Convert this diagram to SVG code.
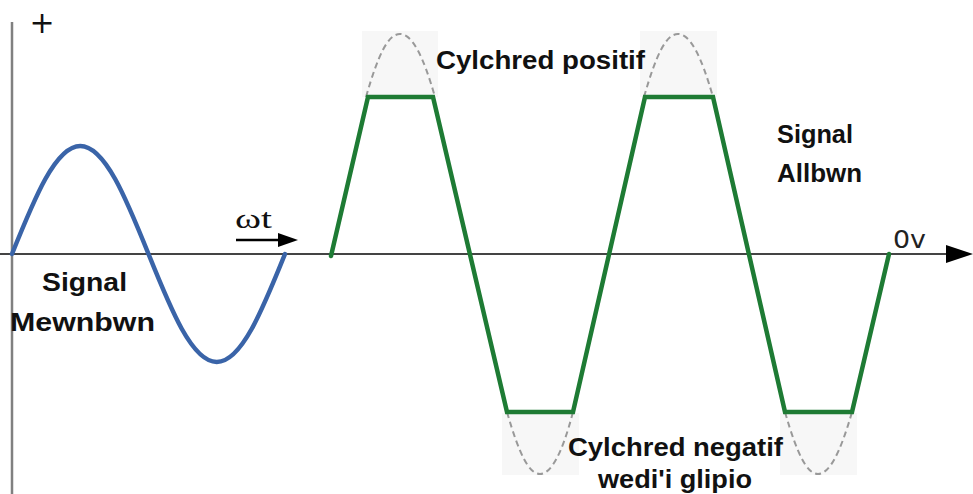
<svg xmlns="http://www.w3.org/2000/svg" width="973" height="494" viewBox="0 0 973 494">
<style>
.lbl{font-family:"Liberation Sans",Arial,sans-serif;font-weight:bold;font-size:25px;fill:#111}
.thin{font-family:"DejaVu Sans","Liberation Sans",sans-serif;font-size:24px;fill:#222}
.dash{fill:none;stroke:#999;stroke-width:2;stroke-dasharray:6 4}
.shade{fill:#f7f7f7}
</style>
<rect width="973" height="494" fill="#fff"/>
<g id="shading">
<rect class="shade" x="362" y="31" width="76" height="66"/>
<rect class="shade" x="640" y="31" width="77" height="66"/>
<rect class="shade" x="502" y="413" width="77" height="62"/>
<rect class="shade" x="780" y="413" width="77" height="62"/>
</g>
<g id="axes">
<line x1="12" y1="22" x2="12" y2="494" stroke="#808080" stroke-width="2.5"/>
<line x1="0" y1="254" x2="950" y2="254" stroke="#444" stroke-width="2"/>
<path d="M946,245 L973,254 L946,263 Z" fill="#000"/>
<text x="42" y="33" font-family="'DejaVu Sans',sans-serif" font-size="30" fill="#111" text-anchor="middle">+</text>
<text x="893" y="248" class="thin" textLength="33" lengthAdjust="spacingAndGlyphs">0v</text>
</g>
<g id="input-signal">
<path d="M12,254 C34.26,198.67 55.55,146 80.25,146 C104.95,146 126.24,198.67 148.5,254 C170.76,309.33 192.05,362 216.75,362 C241.45,362 262.74,309.33 285,254" fill="none" stroke="#3a64a8" stroke-width="4.5" stroke-linecap="round"/>
<text x="42" y="291" class="lbl" textLength="85" lengthAdjust="spacingAndGlyphs">Signal</text>
<text x="10" y="331" class="lbl" textLength="145" lengthAdjust="spacingAndGlyphs">Mewnbwn</text>
</g>
<g id="wt-arrow">
<text x="235" y="228" font-family="'Liberation Serif','Times New Roman',serif" font-size="27" fill="#111" textLength="37" lengthAdjust="spacingAndGlyphs">ωt</text>
<line x1="236" y1="240" x2="282" y2="240" stroke="#000" stroke-width="2.5"/>
<path d="M278,233 L298,240 L278,247 Z" fill="#000"/>
</g>
<g id="clipped-ghost">
<path class="dash" d="M366,97 C378,55 388,34 400,34 C412,34 423,55 435,97"/>
<path class="dash" d="M644,97 C656,55 666,34 678,34 C690,34 701,55 713,97"/>
<path class="dash" d="M507,412 C519,454 529,474 540,474 C551,474 562,454 573,412"/>
<path class="dash" d="M785,412 C797,454 807,474 818,474 C829,474 840,454 852,412"/>
</g>
<g id="output-signal">
<polyline points="331,256 368,97 433,97 507,412 573,412 645,97 713,97 785,412 852,412 889,254" fill="none" stroke="#1e7b34" stroke-width="4.5" stroke-linejoin="miter" stroke-linecap="round"/>
<text x="436" y="69" class="lbl" textLength="209" lengthAdjust="spacingAndGlyphs">Cylchred positif</text>
<text x="777" y="143" class="lbl" textLength="76" lengthAdjust="spacingAndGlyphs">Signal</text>
<text x="777" y="182" class="lbl" textLength="85" lengthAdjust="spacingAndGlyphs">Allbwn</text>
<text x="568" y="456" class="lbl" textLength="215" lengthAdjust="spacingAndGlyphs">Cylchred negatif</text>
<text x="598" y="488" class="lbl" textLength="154" lengthAdjust="spacingAndGlyphs">wedi'i glipio</text>
</g>
</svg>
